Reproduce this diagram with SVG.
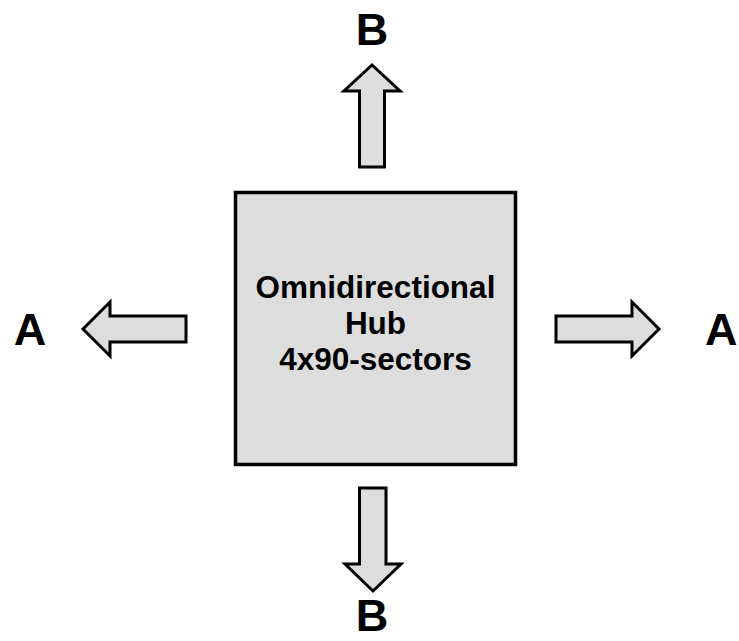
<svg xmlns="http://www.w3.org/2000/svg" width="739" height="641" viewBox="0 0 739 641">
<style>
.box{fill:#dddddd;stroke:#000;stroke-width:3.5}
.arr{fill:#dddddd;stroke:#000;stroke-width:3;stroke-linejoin:miter}
.lbl{font-family:"Liberation Sans",Arial,sans-serif;font-weight:bold;font-size:45px;fill:#000}
.txt{font-family:"Liberation Sans",Arial,sans-serif;font-weight:bold;font-size:31.5px;fill:#000;text-anchor:middle}
</style>
<rect width="739" height="641" fill="#fff"/>
<g id="hub">
<rect class="box" x="235.5" y="192.5" width="280" height="272"/>
<text class="txt" x="375.5" y="298">Omnidirectional</text>
<text class="txt" x="375.5" y="334">Hub</text>
<text class="txt" x="375.5" y="370">4x90-sectors</text>
</g>
<g id="connectors">
<polygon class="arr" points="359.5,167 359.5,91 344,91 372,65 400,91 384.5,91 384.5,167"/>
<polygon class="arr" points="359.5,488 359.5,564 345,564 373,591 401,564 386,564 386,488"/>
<polygon class="arr" points="186,316 110,316 110,302 83,329 110,356 110,342 186,342"/>
<polygon class="arr" points="556,316 632,316 632,302 659,329 632,356 632,342 556,342"/>
</g>
<g id="label-b-top"><text class="lbl" x="372" y="45" text-anchor="middle">B</text></g>
<g id="label-b-bottom"><text class="lbl" x="372" y="631" text-anchor="middle">B</text></g>
<g id="label-a-left"><text class="lbl" x="30" y="345" text-anchor="middle">A</text></g>
<g id="label-a-right"><text class="lbl" x="705" y="345">A</text></g>
</svg>
